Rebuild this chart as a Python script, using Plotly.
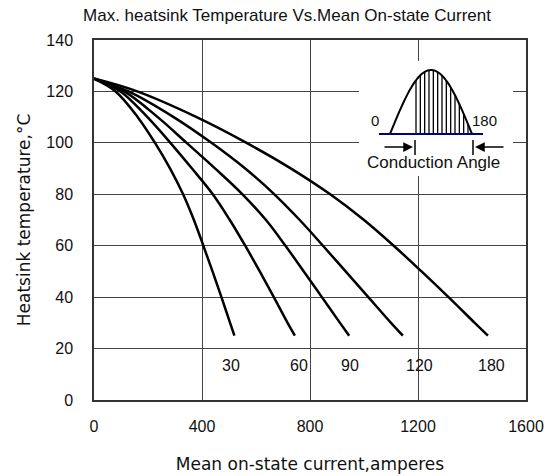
import numpy as np
import plotly.graph_objects as go

# ---- data ----
angle_labels = ["30", "60", "90", "120", "180"]
temps = [125, 120, 110, 100, 90, 80, 70, 60, 50, 40, 30, 25]
current_30 = [0, 80, 162, 226, 282, 330, 370, 405, 439, 472, 504, 520]
current_60 = [0, 98, 198, 283, 363, 440, 503, 560, 614, 666, 717, 744]
current_90 = [0, 112, 236, 343, 449, 550, 637, 709, 777, 844, 911, 945]
current_120 = [0, 128, 295, 435, 560, 668, 762, 848, 932, 1016, 1100, 1144]
current_180 = [0, 160, 380, 565, 730, 875, 1000, 1110, 1213, 1313, 1410, 1459]

label_x = [507, 759, 948, 1204, 1474]
label_y = [13.6, 13.6, 13.6, 13.6, 13.6]

x_ticks = [0, 400, 800, 1200, 1600]
y_ticks = [0, 20, 40, 60, 80, 100, 120, 140]

series = [current_30, current_60, current_90, current_120, current_180]

FONT = "Liberation Sans, Arial, sans-serif"
WIDE = "DejaVu Sans, Verdana, sans-serif"

fig = go.Figure()
for xs, name in zip(series, angle_labels):
    fig.add_trace(go.Scatter(
        x=xs, y=temps, mode="lines", name=name,
        line=dict(color="black", width=2.5, shape="spline", smoothing=1.0),
        showlegend=False, hoverinfo="skip"))

annotations = []
for t, lx, ly in zip(angle_labels, label_x, label_y):
    annotations.append(dict(x=lx, y=ly, xref="x", yref="y", text=t,
                            xanchor="center", yanchor="middle",
                            showarrow=False, font=dict(size=16, color="#111", family=FONT)))

# ---- inset schematic (pixel layout -> paper coords) ----
L, R, T, B = 94, 526, 40, 400
def px(x):
    return (x - L) / (R - L)
def py(y):
    return (B - y) / (B - T)

shapes = []
shapes.append(dict(type="rect", xref="paper", yref="paper",
                   x0=px(359), x1=px(513), y0=py(176), y1=py(61),
                   fillcolor="white", line=dict(width=0), layer="above"))
# half-wave outline
x0s, x1s, base, peak = 390, 472, 134, 64
tt = np.linspace(0, np.pi, 60)
wx = x0s + (x1s - x0s) * tt / np.pi
wy = base - peak * np.sin(tt)
path = "M " + " L ".join(f"{px(a):.5f},{py(b):.5f}" for a, b in zip(wx, wy))
shapes.append(dict(type="path", xref="paper", yref="paper", path=path,
                   line=dict(color="black", width=2), layer="above"))
# hatching
for hx in np.linspace(416, 468, 13):
    h = base - peak * np.sin(np.pi * (hx - x0s) / (x1s - x0s))
    shapes.append(dict(type="line", xref="paper", yref="paper",
                       x0=px(hx), x1=px(hx), y0=py(base), y1=py(h),
                       line=dict(color="black", width=1.3), layer="above"))
# baseline
shapes.append(dict(type="line", xref="paper", yref="paper",
                   x0=px(379), x1=px(483), y0=py(134), y1=py(134),
                   line=dict(color="#000080", width=2), layer="above"))
# bars of the conduction angle
for bx in (415, 473):
    shapes.append(dict(type="line", xref="paper", yref="paper",
                       x0=px(bx), x1=px(bx), y0=py(140), y1=py(155),
                       line=dict(color="black", width=1.5), layer="above"))

annotations += [
    dict(x=px(413), y=py(147), xref="paper", yref="paper", text="",
         showarrow=True, ax=-30, ay=0, arrowhead=2, arrowsize=1.3, arrowwidth=1.5,
         arrowcolor="black"),
    dict(x=px(475), y=py(147), xref="paper", yref="paper", text="",
         showarrow=True, ax=30, ay=0, arrowhead=2, arrowsize=1.3, arrowwidth=1.5,
         arrowcolor="black"),
    dict(x=px(375), y=py(120), xref="paper", yref="paper", text="0",
         xanchor="center", yanchor="middle",
         showarrow=False, font=dict(size=15, color="#111", family=FONT)),
    dict(x=px(484), y=py(120), xref="paper", yref="paper", text="180",
         xanchor="center", yanchor="middle",
         showarrow=False, font=dict(size=15, color="#111", family=FONT)),
    dict(x=px(433), y=py(162), xref="paper", yref="paper", text="Conduction Angle",
         xanchor="center", yanchor="middle",
         showarrow=False, font=dict(size=17, color="#111", family=FONT)),
]

fig.update_layout(
    width=552, height=476,
    margin=dict(l=L, r=552 - R, t=T, b=476 - B, autoexpand=False),
    paper_bgcolor="white", plot_bgcolor="white",
    title=dict(text="Max. heatsink Temperature Vs.Mean On-state Current",
               x=287 / 552, xref="container", xanchor="center",
               y=1 - 15 / 476, yref="container", yanchor="middle",
               font=dict(size=17, color="#111",
                         family="Liberation Sans Narrow, Arial Narrow, sans-serif")),
    shapes=shapes, annotations=annotations,
    font=dict(family=FONT, color="#111"),
)
fig.update_xaxes(range=[0, 1600], tickvals=x_ticks, ticktext=[str(v) for v in x_ticks],
                 showgrid=True, gridcolor="#444", gridwidth=1,
                 showline=True, linecolor="#333", linewidth=1.5, mirror=True,
                 ticks="", ticklabelstandoff=11, zeroline=False, automargin=False,
                 tickfont=dict(size=16, family=FONT, color="#111"),
                 title=dict(text="Mean on-state current,amperes", standoff=24,
                            font=dict(size=17, family=WIDE, color="#111")))
fig.update_yaxes(range=[0, 140], tickvals=y_ticks, ticktext=[str(v) for v in y_ticks],
                 showgrid=True, gridcolor="#444", gridwidth=1,
                 showline=True, linecolor="#333", linewidth=1.5, mirror=True,
                 ticks="", ticklabelstandoff=16, zeroline=False, automargin=False,
                 tickfont=dict(size=16, family=FONT, color="#111"),
                 title=dict(text="Heatsink temperature,°C", standoff=11,
                            font=dict(size=17, family=WIDE, color="#111")))

fig.write_html("out.html", config={"displayModeBar": False},
               post_script="document.body.style.margin='0px';")
